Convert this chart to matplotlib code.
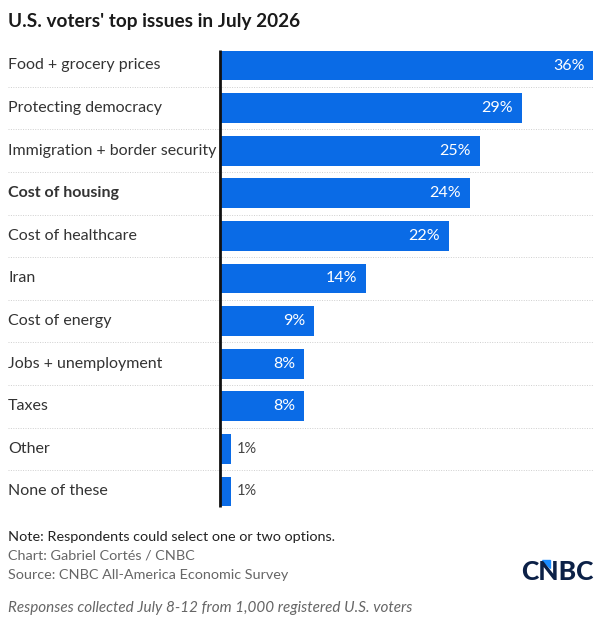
import matplotlib.pyplot as plt
from matplotlib.patches import Polygon

plt.rcParams['font.family'] = ['Lato', 'DejaVu Sans']

# datos
issues = ['Food + grocery prices', 'Protecting democracy', 'Immigration + border security',
          'Cost of housing', 'Cost of healthcare', 'Iran', 'Cost of energy',
          'Jobs + unemployment', 'Taxes', 'Other', 'None of these']
values = [36, 29, 25, 24, 22, 14, 9, 8, 8, 1, 1]
bold_issue = 'Cost of housing'

bar_color = '#0a6be6'
W, H = 601, 619

fig = plt.figure(figsize=(W / 100, H / 100), dpi=100)
# ejes de x=8 a x=593 px, filas de y=44.2 a y=512.8 px
ax = fig.add_axes([8 / W, 1 - 512.8 / H, 585 / W, (512.8 - 44.2) / H])
px = 36 / 373.0
ax.set_xlim(-212 * px, 36)
ax.set_ylim(len(issues) - 0.5, -0.5)
ax.axis('off')

ypos = list(range(len(issues)))
ax.barh(ypos, values, height=0.7, color=bar_color, left=0.1)

# separadores punteados
for i in range(len(issues) - 1):
    ax.hlines(i + 0.5, -212 * px, 36, colors='#cfcfcf', linestyles=(0, (1, 1.5)), linewidth=0.7)

# linea vertical
ax.vlines(0, -0.37, len(issues) - 1 + 0.37, colors='#111111', linewidth=2)

for i, (lab, v) in enumerate(zip(issues, values)):
    ax.text(-212 * px, i, lab, ha='left', va='center', fontsize=11.5, color='#333333',
            fontweight='bold' if lab == bold_issue else 'normal')
    if v >= 5:
        ax.text(v - 8 * px, i, f'{v}%', ha='right', va='center', fontsize=11.5, color='white')
    else:
        ax.text(v + 6 * px, i, f'{v}%', ha='left', va='center', fontsize=10.5, color='#444444')

fig.text(8 / W, 1 - 22 / H, "U.S. voters' top issues in July 2026", ha='left', va='center',
         fontsize=13.7, fontweight='bold', color='#1a1a1a')

fig.text(8 / W, 1 - 537 / H, 'Note: Respondents could select one or two options.', ha='left',
         va='center', fontsize=10.4, color='#222222')
fig.text(8 / W, 1 - 556 / H, 'Chart: Gabriel Cortés / CNBC', ha='left', va='center',
         fontsize=10.4, color='#666666')
fig.text(8 / W, 1 - 575 / H, 'Source: CNBC All-America Economic Survey', ha='left', va='center',
         fontsize=10.4, color='#666666')
fig.text(8 / W, 1 - 608 / H, 'Responses collected July 8-12 from 1,000 registered U.S. voters',
         ha='left', va='center', fontsize=11, color='#666666', style='italic')

# logo CNBC
fig.text(594 / W, 1 - 572 / H, 'CNBC', ha='right', va='center', fontsize=19,
         fontweight='black', color='#0c2147')
tri = Polygon([(542 / W, 1 - 560 / H), (550 / W, 1 - 560 / H), (550 / W, 1 - 568 / H)],
              closed=True, transform=fig.transFigure, color='#1a8cff')
fig.patches.append(tri)

fig.savefig('out.png', dpi=100, facecolor='white')
